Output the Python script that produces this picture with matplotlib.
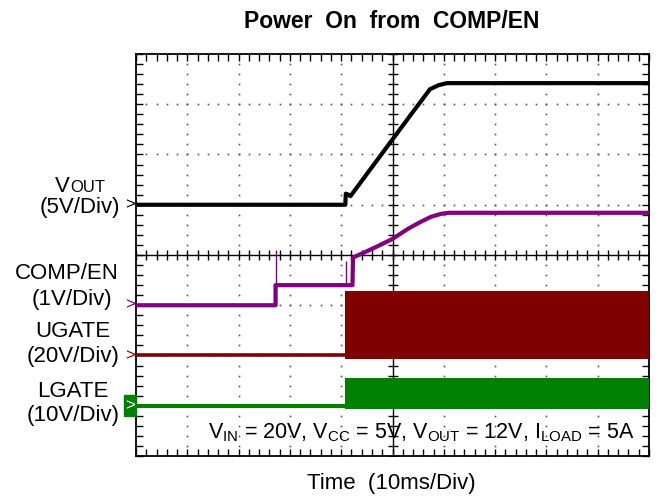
import matplotlib
matplotlib.use('Agg')
import matplotlib.pyplot as plt
import numpy as np
from matplotlib.ticker import MultipleLocator
from matplotlib.patches import Rectangle

plt.rcParams['font.family'] = ['Liberation Sans', 'DejaVu Sans']
plt.rcParams['mathtext.fontset'] = 'custom'
plt.rcParams['mathtext.rm'] = 'Liberation Sans'
plt.rcParams['mathtext.it'] = 'Liberation Sans:italic'
plt.rcParams['mathtext.bf'] = 'Liberation Sans:bold'

# ---- data (time in divisions, levels in divisions from screen centre) ----
vout_t = [0.0, 4.08, 4.09, 4.14, 4.18, 4.6, 5.0, 5.4, 5.6, 5.73, 5.9, 6.06, 10.0]
vout_v = [1.0, 1.0, 1.22, 1.2, 1.17, 1.75, 2.3, 2.85, 3.12, 3.3, 3.38, 3.42, 3.42]

comp_t = [0.0, 2.72, 2.72, 4.22, 4.23, 4.45, 4.7, 5.0, 5.3, 5.55, 5.75, 5.95, 6.1, 10.0]
comp_v = [-1.0, -1.0, -0.6, -0.6, -0.05, 0.05, 0.17, 0.32, 0.52, 0.66, 0.76, 0.82, 0.84, 0.84]
comp_spike_t = [2.72, 4.09]
comp_spike_lo = [-1.0, -0.6]
comp_spike_hi = [0.1, -0.12]

ugate_off_t = [0.0, 4.08]
ugate_off_v = [-2.0, -2.0]
ugate_on_t = [4.08, 10.0]
ugate_on_top = [-0.72, -0.72]
ugate_on_bot = [-2.06, -2.06]

lgate_off_t = [0.0, 4.08]
lgate_off_v = [-3.0, -3.0]
lgate_on_t = [4.08, 10.0]
lgate_on_top = [-2.45, -2.45]
lgate_on_bot = [-3.06, -3.06]

title = 'Power  On  from  COMP/EN'
xlabel = 'Time  (10ms/Div)'
note = r'$\mathrm{V_{IN}}$ = 20V, $\mathrm{V_{CC}}$ = 5V, $\mathrm{V_{OUT}}$ = 12V, $\mathrm{I_{LOAD}}$ = 5A'

BLACK = '#000000'
PURPLE = '#800080'
RED = '#800000'
GREEN = '#008000'

W, H = 661, 498
fig = plt.figure(figsize=(W / 100, H / 100), dpi=100)
L, R, T, B = 136, 649, 54, 456
ax = fig.add_axes([L / W, 1 - B / H, (R - L) / W, (B - T) / H])
ax.set_xlim(0, 10)
ax.set_ylim(-4, 4)

# dotted graticule
gx = np.arange(0, 10.001, 0.2)
gy = np.arange(-4, 4.001, 0.2)
for yy in [-3, -2, -1, 1, 2, 3]:
    ax.plot(gx, np.full_like(gx, yy), ls='none', marker='s', ms=1.2, mew=0, color='#555555', zorder=1)
for xx in [1, 2, 3, 4, 6, 7, 8, 9]:
    ax.plot(np.full_like(gy, xx), gy, ls='none', marker='s', ms=1.2, mew=0, color='#555555', zorder=1)

# centre cross with minor ticks
ax.axhline(0, color='k', lw=1.0, zorder=1)
ax.axvline(5, color='k', lw=1.0, zorder=1)
ax.plot(gx, np.zeros_like(gx), ls='none', marker='|', ms=7, mew=1.0, color='k', zorder=1)
ax.plot(np.full_like(gy, 5), gy, ls='none', marker='_', ms=7, mew=1.0, color='k', zorder=1)

for a in (ax.xaxis, ax.yaxis):
    a.set_major_locator(MultipleLocator(1))
    a.set_minor_locator(MultipleLocator(0.2))
ax.tick_params(which='both', direction='in', top=True, right=True, bottom=True, left=True,
               length=5, width=1.0, labelbottom=False, labelleft=False)
for s in ax.spines.values():
    s.set_linewidth(1.3)

# traces
ax.fill_between(ugate_on_t, ugate_on_bot, ugate_on_top, color=RED, lw=0, zorder=3)
ax.plot(ugate_off_t, ugate_off_v, color=RED, lw=2.6, zorder=3, solid_capstyle='butt')
ax.fill_between(lgate_on_t, lgate_on_bot, lgate_on_top, color=GREEN, lw=0, zorder=3)
ax.plot(lgate_off_t, lgate_off_v, color=GREEN, lw=3.0, zorder=3, solid_capstyle='butt')
ax.plot(comp_t, comp_v, color=PURPLE, lw=3.0, zorder=4, solid_capstyle='butt')
ax.vlines(comp_spike_t, comp_spike_lo, comp_spike_hi, color=PURPLE, lw=1.0, zorder=4)
ax.plot(vout_t, vout_v, color=BLACK, lw=3.0, zorder=5, solid_capstyle='butt')

# channel markers
tr = ax.get_yaxis_transform()
mk = dict(transform=tr, ha='right', va='center', fontsize=12, clip_on=False)
ax.text(-0.002, vout_v[0], '>', color=BLACK, **mk)
ax.text(-0.002, comp_v[0], '>', color=PURPLE, **mk)
ax.text(-0.002, ugate_off_v[0], '>', color=RED, **mk)
ax.add_patch(Rectangle((-12 / (R - L), lgate_off_v[0] - 0.21), 12 / (R - L), 0.42, transform=tr,
                       color=GREEN, clip_on=False, zorder=6))
ax.text(-6 / (R - L), lgate_off_v[0], '>', transform=tr, ha='center', va='center', fontsize=12,
        color='white', clip_on=False, zorder=7)

# texts
def ftext(px, py, s, **kw):
    fig.text(px / W, 1 - py / H, s, **kw)

ftext(392, 21, title, ha='center', va='center', fontsize=16.5, fontweight='bold')
ftext(391, 483, xlabel, ha='center', va='center', fontsize=16)
ftext(635, 438, note, ha='right', va='baseline', fontsize=15.5)

ftext(70, 192, 'V', ha='right', va='baseline', fontsize=16)
ftext(70, 192, 'OUT', ha='left', va='baseline', fontsize=12)
ftext(80, 208, '(5V/Div)', ha='center', va='center', fontsize=16)
ftext(67, 273, 'COMP/EN', ha='center', va='center', fontsize=16)
ftext(72, 299, '(1V/Div)', ha='center', va='center', fontsize=16)
ftext(73, 331, 'UGATE', ha='center', va='center', fontsize=16)
ftext(73, 356, '(20V/Div)', ha='center', va='center', fontsize=16)
ftext(73, 391, 'LGATE', ha='center', va='center', fontsize=16)
ftext(73, 416, '(10V/Div)', ha='center', va='center', fontsize=16)

fig.savefig('out.png', dpi=100)
